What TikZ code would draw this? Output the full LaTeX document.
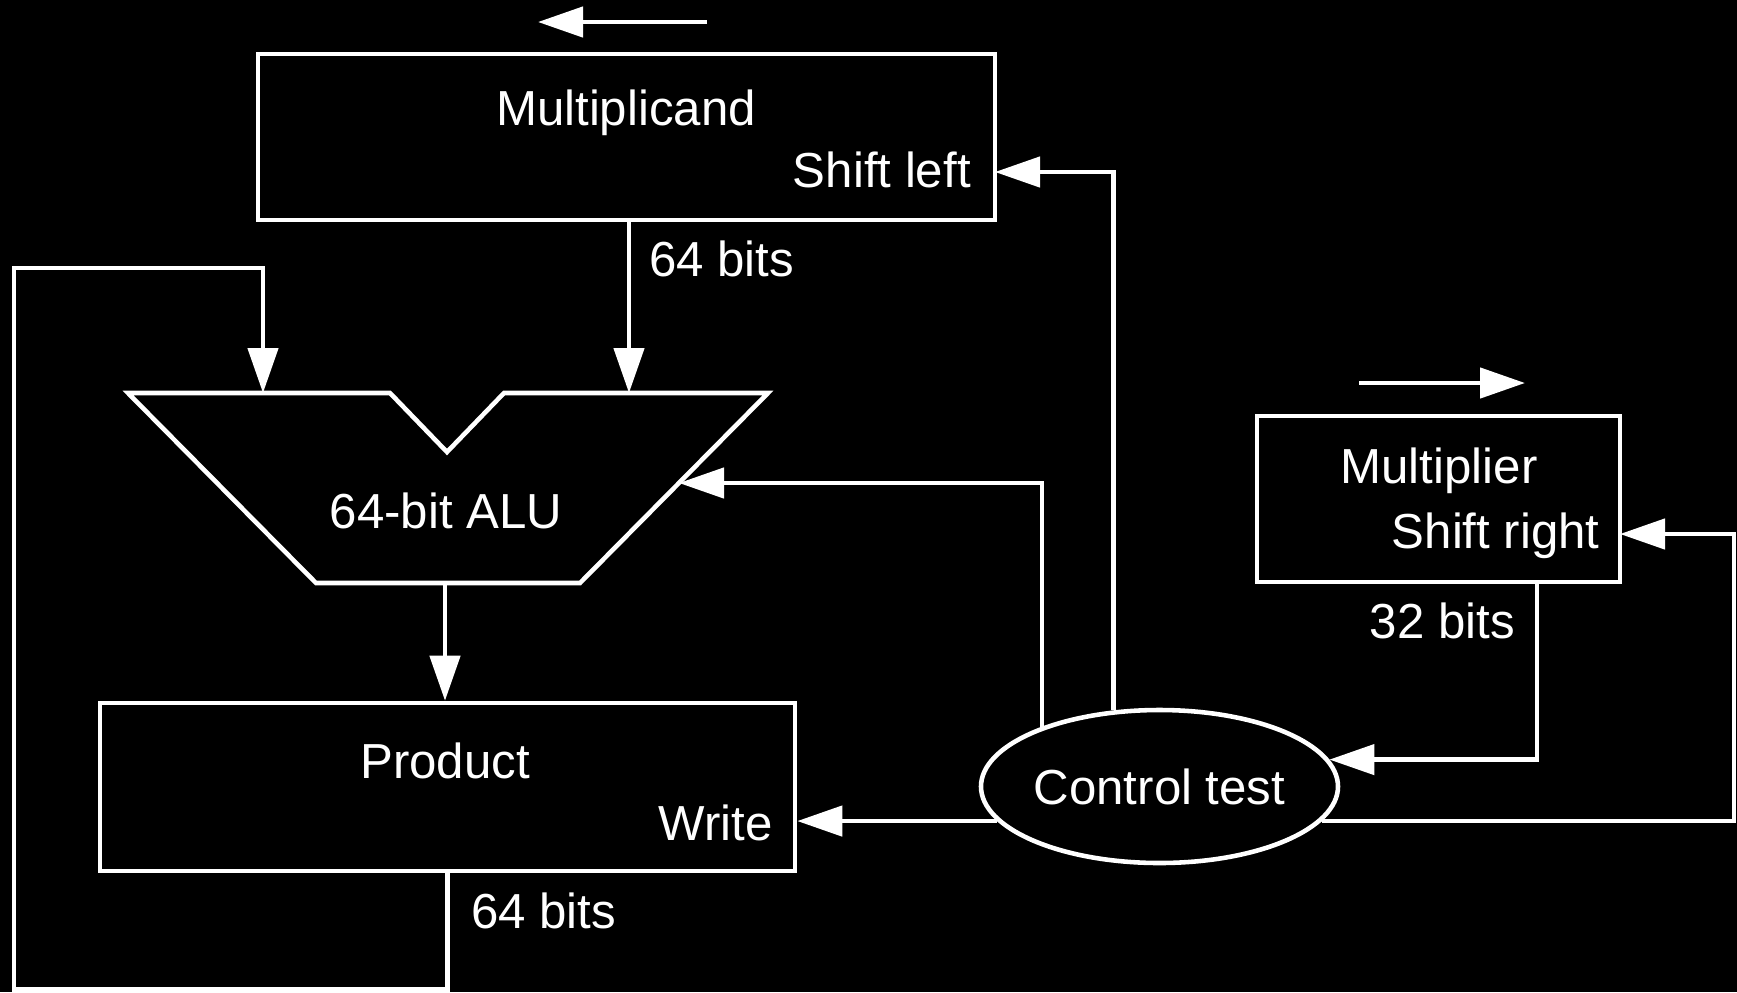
\documentclass[tikz,border=0pt]{standalone}
\usepackage{fontspec}
\setmainfont{Liberation Sans}
\usepackage{tikz}
\usetikzlibrary{arrows.meta}
\usetikzlibrary{shapes.geometric}
\tikzstyle{diag}=[line width=1.3pt, color=white, font=\fontsize{14}{16}\selectfont]
\tikzstyle{box}=[rectangle, inner sep=0pt, draw]
\tikzstyle{ctrl}=[ellipse, inner sep=0pt, draw, minimum width=3.57cm, minimum height=1.53cm]
\tikzstyle{txt}=[inner sep=0pt]
\tikzstyle{edge}=[-{Triangle[length=4.5mm, width=3mm]}]

\begin{document}
\begin{tikzpicture}[diag]
	\useasboundingbox (0,0) rectangle (17.37,-9.92);
	\fill[black] (0,0) rectangle (17.37,-9.92);
	% registers and control
	\draw (6.265,-1.37) node[box, minimum width=7.37cm, minimum height=1.66cm] (mcand) {};
	\draw (4.475,-7.87) node[box, minimum width=6.95cm, minimum height=1.68cm] (prod) {};
	\draw (14.385,-4.99) node[box, minimum width=3.63cm, minimum height=1.66cm] (mplier) {};
	\draw (11.595,-7.865) node[ctrl] (ctrl) {Control test};
	% texts
	\draw (6.26,-1.25) node[txt, anchor=base] (mcandT) {Multiplicand};
	\draw (9.73,-1.87) node[txt, anchor=base east] (shlT) {Shift left};
	\draw (4.45,-7.78) node[txt, anchor=base] (prodT) {Product};
	\draw (7.75,-8.40) node[txt, anchor=base east] (wrT) {Write};
	\draw (14.39,-4.83) node[txt, anchor=base] (mplT) {Multiplier};
	\draw (16.02,-5.48) node[txt, anchor=base east] (shrT) {Shift right};
	\draw (4.46,-5.28) node[txt, anchor=base] (aluT) {64-bit ALU};
	\draw (6.47,-2.76) node[txt, anchor=base west] (bitsA) {64 bits};
	\draw (4.69,-9.28) node[txt, anchor=base west] (bitsB) {64 bits};
	\draw (15.17,-6.38) node[txt, anchor=base east] (bitsC) {32 bits};
	% ALU
	\coordinate (aluTL) at (1.28,-3.93);
	\coordinate (aluTR) at (7.68,-3.93);
	\coordinate (aluBR) at (5.80,-5.83);
	\coordinate (aluBL) at (3.16,-5.83);
	\draw[line join=miter] (aluTL) -- (3.90,-3.93) -- (4.47,-4.52) -- (5.04,-3.93) -- (aluTR) -- (aluBR) -- (aluBL) -- cycle;
	\coordinate (aluA) at (2.63,-3.93);
	\coordinate (aluB) at (6.29,-3.93);
	\coordinate (aluOut) at (4.45,-5.83);
	\coordinate (aluCtl) at (6.79,-4.83);
	\coordinate (shlIn) at (9.95,-1.72);
	\coordinate (shrIn) at (16.20,-5.34);
	\coordinate (rTurn) at (17.34,-5.34);
	\coordinate (m32) at (15.37,-5.82);
	\coordinate (la1) at (7.07,-0.22);
	\coordinate (la2) at (5.38,-0.22);
	\coordinate (ra1) at (13.59,-3.83);
	\coordinate (ra2) at (15.25,-3.83);
	% connectors
	\draw[edge] (la1) -- (la2);
	\draw[edge] (ra1) -- (ra2);
	\draw[edge] (mcand.south -| aluB) -- (aluB);
	\draw[edge] (prod.south) -- ++(0,-1.16) -| (0.14,-2.68) -| (aluA);
	\draw[edge] (aluOut) -- (aluOut |- prod.north);
	\draw[edge] (ctrl.121) |- (shlIn);
	\draw[edge] (ctrl.153) |- (aluCtl);
	\draw[edge] (ctrl.192) -- (ctrl.192 -| prod.east);
	\draw[edge] (ctrl.348) -| (rTurn) -- (shrIn);
	\draw[edge] (m32) |- (ctrl.9);
\end{tikzpicture}
\end{document}
